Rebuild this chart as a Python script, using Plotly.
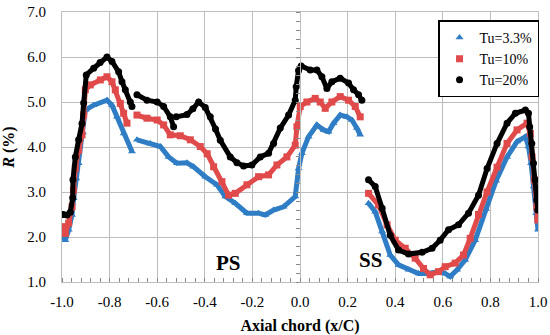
import plotly.graph_objects as go

# ---- data ----
x_tu33 = [-1.0, -0.986, -0.972, -0.958, -0.951, -0.94, -0.93, -0.912, -0.902, -0.867, -0.811, -0.79, -0.769, -0.741, -0.706, None,
          -0.685, -0.629, -0.587, -0.552, -0.517, -0.475, -0.447, -0.398, -0.349, -0.314, -0.272, -0.223, -0.174, -0.146, -0.111,
          -0.069, -0.02, -0.006, 0.008, 0.036, 0.071, 0.099, 0.12, 0.141, 0.169, 0.197, 0.218, 0.239, 0.253, None,
          0.288, 0.316, 0.345, 0.379, 0.414, 0.456, 0.498, 0.54, 0.582, 0.61, 0.631, 0.66, 0.694, 0.736, 0.782, 0.824, 0.87,
          0.912, 0.947, 0.96, 0.971, 0.982, 0.993, 1.0]
y_tu33 = [2.04, 1.93, 2.16, 2.49, 2.86, 3.3, 3.64, 4.32, 4.82, 4.93, 5.04, 4.93, 4.67, 4.3, 3.9, None,
          4.16, 4.08, 4.01, 3.78, 3.64, 3.65, 3.56, 3.34, 3.16, 2.9, 2.75, 2.53, 2.53, 2.49, 2.6,
          2.67, 2.9, 3.52, 3.86, 4.23, 4.49, 4.38, 4.34, 4.53, 4.71, 4.67, 4.6, 4.42, 4.27, None,
          2.75, 2.56, 2.12, 1.6, 1.38, 1.27, 1.19, 1.19, 1.23, 1.19, 1.12, 1.27, 1.49, 1.93, 2.62, 3.25, 3.78,
          4.12, 4.23, 4.01, 3.64, 3.12, 2.53, 2.16]

x_tu10 = [-0.998, -0.986, -0.972, -0.958, -0.952, -0.944, -0.93, -0.916, -0.909, -0.902, -0.881, -0.839, -0.811, -0.79, -0.776,
          -0.755, -0.741, -0.727, None,
          -0.685, -0.643, -0.6, -0.573, -0.545, -0.503, -0.461, -0.419, -0.39, -0.363, -0.328, -0.3, -0.272, -0.223, -0.174,
          -0.132, -0.097, -0.055, -0.02, -0.013, 0.001, 0.029, 0.064, 0.085, 0.106, 0.134, 0.169, 0.204, 0.232, 0.253, None,
          0.288, 0.33, 0.366, 0.4, 0.442, 0.484, 0.519, 0.547, 0.582, 0.61, 0.652, 0.687, 0.715, 0.75, 0.786, 0.828, 0.87,
          0.912, 0.954, 0.968, 0.975, 0.985, 0.995, 0.999]
y_tu10 = [2.23, 2.08, 2.31, 2.67, 3.04, 3.53, 3.93, 4.27, 4.71, 5.27, 5.38, 5.49, 5.56, 5.45, 5.27,
          4.97, 4.75, 4.53, None,
          4.71, 4.64, 4.6, 4.49, 4.27, 4.25, 4.16, 4.01, 3.85, 3.56, 3.23, 2.93, 2.97, 3.16, 3.34,
          3.38, 3.6, 3.78, 4.04, 4.45, 4.9, 5.0, 5.08, 5.0, 4.86, 5.0, 5.12, 5.04, 4.9, 4.67, None,
          2.97, 2.71, 2.27, 1.93, 1.75, 1.53, 1.3, 1.16, 1.23, 1.34, 1.42, 1.6, 1.97, 2.5, 3.0, 3.55, 4.08,
          4.38, 4.53, 4.3, 3.78, 3.27, 2.67, 2.38]

x_tu20 = [-0.995, -0.979, -0.965, -0.955, -0.954, -0.944, -0.93, -0.916, -0.909, -0.898, -0.867, -0.84, -0.811, -0.79, -0.762,
          -0.748, -0.734, -0.713, -0.706, None,
          -0.685, -0.643, -0.6, -0.573, -0.545, -0.531, None,
          -0.52, -0.475, -0.45, -0.426, -0.398, -0.377, -0.355, -0.335, -0.293, -0.265, -0.237, -0.202, -0.167, -0.132, -0.111,
          -0.083, -0.048, -0.02, -0.016, -0.006, 0.005, 0.043, 0.071, 0.092, 0.113, 0.134, 0.169, 0.204, 0.225, 0.246, 0.26, None,
          0.288, 0.316, 0.345, 0.379, 0.414, 0.456, 0.513, 0.555, 0.589, 0.624, 0.666, 0.708, 0.75, 0.786, 0.828, 0.87,
          0.905, 0.947, 0.96, 0.965, 0.974, 0.981, 0.988, 0.995, 0.999]
y_tu20 = [2.5, 2.49, 2.55, 2.87, 3.27, 3.78, 4.16, 4.52, 4.98, 5.6, 5.75, 5.88, 6.0, 5.9, 5.67,
          5.45, 5.27, 5.0, 4.9, None,
          5.16, 5.04, 5.0, 4.9, 4.67, 4.45, None,
          4.67, 4.72, 4.85, 5.0, 4.88, 4.67, 4.4, 4.15, 3.78, 3.65, 3.58, 3.6, 3.78, 3.86, 4.08,
          4.42, 4.71, 5.04, 5.34, 5.7, 5.8, 5.71, 5.71, 5.56, 5.3, 5.45, 5.53, 5.42, 5.27, 5.16, 5.04, None,
          3.27, 3.12, 2.64, 2.04, 1.71, 1.62, 1.66, 1.75, 1.93, 2.16, 2.27, 2.53, 2.93, 3.52, 4.08, 4.53,
          4.75, 4.82, 4.75, 4.45, 4.08, 3.64, 3.27, 2.82, 2.6]

series_names = ["Tu=3.3%", "Tu=10%", "Tu=20%"]
x_tick_vals = [-1.0, -0.8, -0.6, -0.4, -0.2, 0.0, 0.2, 0.4, 0.6, 0.8, 1.0]
x_tick_text = ["-1.0", "-0.8", "-0.6", "-0.4", "-0.2", "0.0", "0.2", "0.4", "0.6", "0.8", "1.0"]
y_tick_vals = [1, 2, 3, 4, 5, 6, 7]
y_tick_text = ["1.0", "2.0", "3.0", "4.0", "5.0", "6.0", "7.0"]
region_labels = ["PS", "SS"]
region_x = [-0.3, 0.295]
region_y = [1.42, 1.48]

FONT = "Liberation Serif, Times New Roman, serif"
GRID = "#bdbdbd"

fig = go.Figure()
styles = [("#2f7dc4", "triangle-up"), ("#e04a4a", "square"), ("#000000", "circle")]
for name, xs, ys, (col, sym) in zip(series_names, [x_tu33, x_tu10, x_tu20], [y_tu33, y_tu10, y_tu20], styles):
    fig.add_trace(go.Scatter(
        x=xs, y=ys, name=name, mode="lines+markers", showlegend=False,
        line=dict(color=col, width=5),
        marker=dict(color=col, symbol=sym, size=7),
        connectgaps=False, legendgroup=name,
    ))
    fig.add_trace(go.Scatter(
        x=[None], y=[None], name=name, mode="markers", legendgroup=name,
        marker=dict(color=col, symbol=sym, size=7),
    ))

fig.add_trace(go.Scatter(x=[0], y=[1], yaxis="y2", mode="markers",
                         marker=dict(opacity=0), showlegend=False, hoverinfo="skip"))

for txt, xx, yy in zip(region_labels, region_x, region_y):
    fig.add_annotation(x=xx, y=yy, text=f"<b>{txt}</b>", showarrow=False,
                       font=dict(family=FONT, size=21, color="black"))

fig.update_layout(
    width=550, height=335,
    margin=dict(l=62, r=12, t=12, b=53, autoexpand=False),
    paper_bgcolor="white", plot_bgcolor="white",
    font=dict(family=FONT, size=15, color="black"),
    xaxis=dict(range=[-1.0, 1.0], tickvals=x_tick_vals, ticktext=x_tick_text,
               showgrid=True, gridcolor=GRID, gridwidth=1,
               showline=True, linecolor=GRID, linewidth=1, mirror=True,
               zeroline=False, ticks="", tickfont=dict(family=FONT, size=15),
               ticklabelstandoff=6, automargin=False,
               minor=dict(dtick=0.04, ticks="inside", ticklen=4, tickcolor="#888888", showgrid=False),
               title=dict(text="<b>Axial chord (x/C)</b>", font=dict(family=FONT, size=16))),
    yaxis=dict(range=[1.0, 7.0], tickvals=y_tick_vals, ticktext=y_tick_text,
               showgrid=True, gridcolor=GRID, gridwidth=1,
               showline=True, linecolor=GRID, linewidth=1, mirror=True,
               zeroline=False, ticks="", tickfont=dict(family=FONT, size=15),
               ticklabelstandoff=12, automargin=False,
               title=dict(text="<b><i>R</i> (%)</b>", font=dict(family=FONT, size=16))),
    yaxis2=dict(range=[1.0, 7.0], overlaying="y", anchor="free", position=0.5, side="left",
                showgrid=False, zeroline=False, showticklabels=False, automargin=False,
                showline=True, linecolor=GRID, linewidth=1,
                tickmode="linear", tick0=1.0, dtick=0.2, ticks="outside", ticklen=4, tickcolor="#888888"),
    legend=dict(x=0.79, y=0.969, xanchor="left", yanchor="top",
                bgcolor="white", bordercolor="black", borderwidth=1.5,
                font=dict(family=FONT, size=14), itemwidth=30,
                tracegroupgap=0),
    showlegend=True,
)

fig.write_html("out.html", config={"displayModeBar": False},
               post_script="document.body.style.margin='0';")
